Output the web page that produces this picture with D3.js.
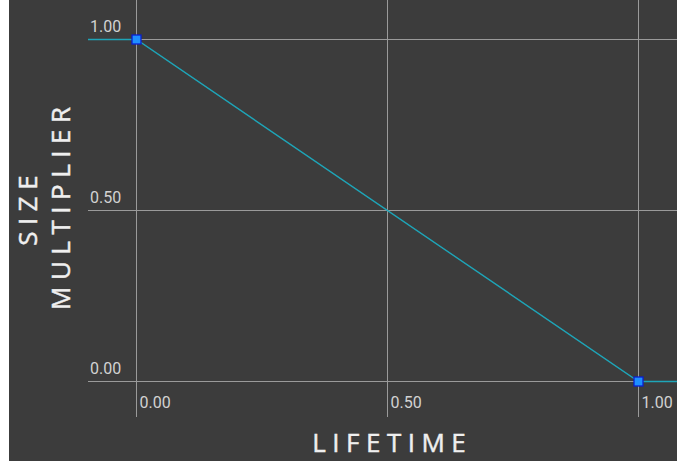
<!DOCTYPE html>
<html>
<head>
<meta charset="utf-8">
<script src="https://cdn.jsdelivr.net/npm/d3@7"></script>
<style>
  html, body { margin: 0; padding: 0; background: #ffffff; }
  svg { display: block; }
</style>
</head>
<body>
<svg id="chart" width="677" height="461"></svg>
<script>
// Curve keyframes: lifetime (0..1) -> size multiplier
const keyTimes = [0, 1];
const keyValues = [1, 0];
const xTicks = [0, 0.5, 1];
const yTicks = [0, 0.5, 1];
const xTickLabels = ["0.00", "0.50", "1.00"];
const yTickLabels = ["0.00", "0.50", "1.00"];

const W = 677, H = 461;
const svg = d3.select("#chart");

// Editor panel background (thin light strip on the left edge)
svg.append("rect").attr("x", 9).attr("y", 0).attr("width", W - 9).attr("height", H)
  .attr("fill", "#3c3c3c");

const x = d3.scaleLinear().domain([0, 1]).range([136.5, 638.5]);
const y = d3.scaleLinear().domain([0, 1]).range([381.5, 39.5]);

const plotLeft = 88, plotRight = W, gridTop = 0, gridBottom = 417;
const gridColor = "#9a9a9a";

// Horizontal grid lines
svg.append("g").selectAll("line").data(yTicks).join("line")
  .attr("x1", plotLeft).attr("x2", plotRight)
  .attr("y1", d => y(d)).attr("y2", d => y(d))
  .attr("stroke", gridColor).attr("stroke-width", 1);

// Vertical grid lines
svg.append("g").selectAll("line").data(xTicks).join("line")
  .attr("x1", d => x(d)).attr("x2", d => x(d))
  .attr("y1", gridTop).attr("y2", gridBottom)
  .attr("stroke", gridColor).attr("stroke-width", 1);

// Tick labels
const labelFont = "Roboto, 'Open Sans', sans-serif";
svg.append("g").selectAll("text").data(yTicks).join("text")
  .attr("x", 90).attr("y", d => y(d) - 7.5)
  .attr("font-family", labelFont).attr("font-size", 16)
  .attr("fill", "#d2d2d2")
  .text((d, i) => yTickLabels[i]);

svg.append("g").selectAll("text").data(xTicks).join("text")
  .attr("x", d => x(d) + 3).attr("y", 408)
  .attr("font-family", labelFont).attr("font-size", 16)
  .attr("fill", "#d2d2d2")
  .text((d, i) => xTickLabels[i]);

// Curve with constant extension beyond the first and last keys
const pts = keyTimes.map((t, i) => [x(t), y(keyValues[i])]);
const curvePts = [[plotLeft, y(keyValues[0])], ...pts, [plotRight, y(keyValues[keyValues.length - 1])]];
svg.append("path")
  .attr("d", d3.line()(curvePts))
  .attr("fill", "none")
  .attr("stroke", "#1ea5b8")
  .attr("stroke-width", 1.4);

// Key markers
svg.append("g").selectAll("rect").data(keyTimes).join("rect")
  .attr("x", d => x(d) - 4.5).attr("y", (d, i) => y(keyValues[i]) - 4.5)
  .attr("width", 9).attr("height", 9)
  .attr("fill", "#1e8fff")
  .attr("stroke", "#0a1fd0").attr("stroke-width", 1.3);

// Axis titles (regular face, lightly stroked for a medium weight)
const titleFont = "'Open Sans', 'DejaVu Sans', sans-serif";
const titleSize = 26, titleSpacing = 6.5;
const titleColor = "#efefef";
function styleTitle(sel) {
  return sel.attr("text-anchor", "middle")
    .attr("font-family", titleFont).attr("font-size", titleSize)
    .attr("letter-spacing", titleSpacing)
    .attr("fill", titleColor)
    .attr("stroke", titleColor).attr("stroke-width", 0.45);
}
styleTitle(svg.append("text")
  .attr("x", 389 + titleSpacing / 2).attr("y", 452))
  .text("LIFETIME");

const yTitle = svg.append("g")
  .attr("transform", `translate(0, ${y(0.5)}) rotate(-90)`);
styleTitle(yTitle.append("text")
  .attr("x", titleSpacing / 2).attr("y", 37))
  .text("SIZE");
styleTitle(yTitle.append("text")
  .attr("x", titleSpacing / 2 + 2).attr("y", 70))
  .text("MULTIPLIER");
</script>
</body>
</html>
